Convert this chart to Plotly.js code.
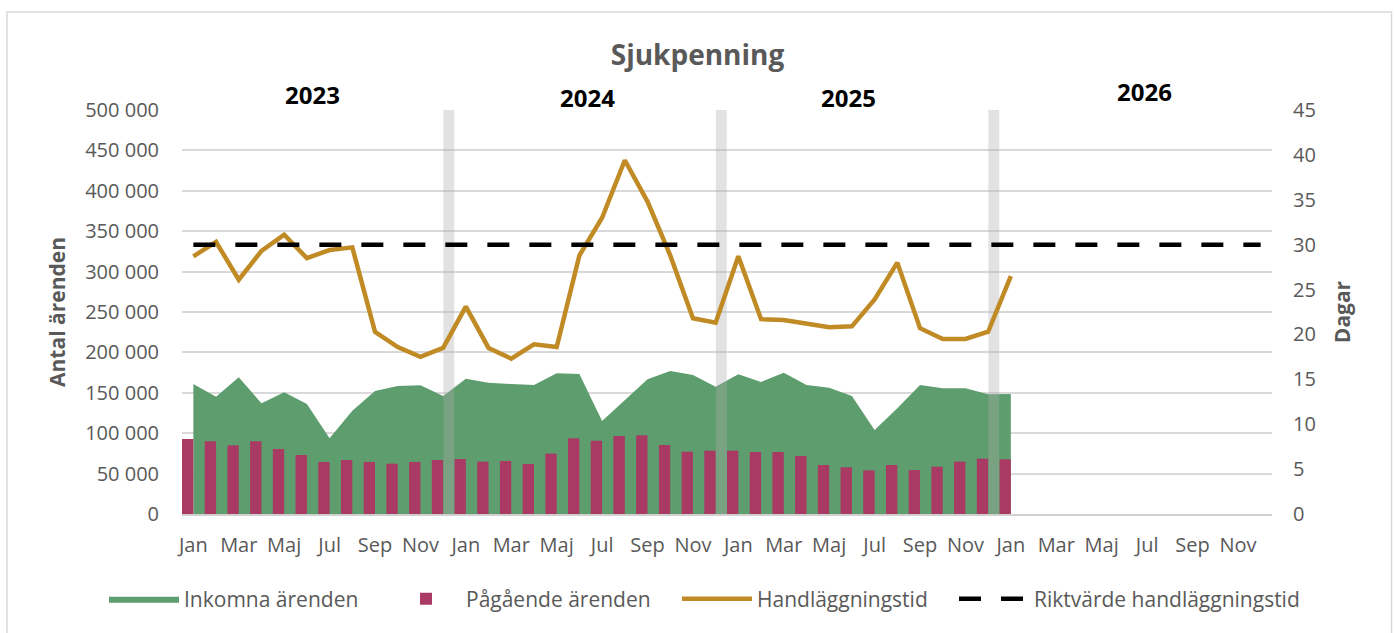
<!DOCTYPE html>
<html>
<head>
<meta charset="utf-8">
<script src="https://cdn.plot.ly/plotly-3.0.1.min.js"></script>
<style>
  html, body { margin: 0; padding: 0; background: #ffffff; }
  #chart { width: 1395px; height: 633px; }
</style>
</head>
<body>
<div id="chart"></div>
<script>
// ---- Data ----
// 48 monthly categories: Jan 2023 .. Dec 2026
const monthNames = ["Jan","Feb","Mar","Apr","Maj","Jun","Jul","Aug","Sep","Okt","Nov","Dec"];
const years = ["2023","2024","2025","2026"];
const tickLabels = ["Jan","Mar","Maj","Jul","Sep","Nov"];

// Inkomna ärenden (Jan 2023 .. Jan 2026)
const inkomna = [
  160900,145200,169200,137000,150600,136100,93700,127900,152200,158400,159200,146000,
  167500,162500,160900,159600,174100,173300,115100,141100,166700,177000,172000,157600,
  172900,163400,174900,159600,156300,146000,104000,130800,159600,155500,155500,148100,
  148500
];
// Pågående ärenden (Jan 2023 .. Jan 2026)
const pagaende = [
  92800,90000,85000,90000,80400,73000,64400,66800,64400,62300,64400,66800,
  68100,64800,65600,61900,74700,93700,90700,96500,97400,85400,77100,78400,
  78400,76700,76700,71800,60600,57800,54000,60600,54400,58600,64800,68500,
  67700
];
// Handläggningstid, dagar (Jan 2023 .. Jan 2026)
const handlaggningstid = [
  28.7,30.3,26.1,29.3,31.1,28.5,29.4,29.7,20.3,18.6,17.5,18.5,
  23.1,18.5,17.3,18.9,18.6,28.8,33.0,39.4,34.8,28.8,21.8,21.3,
  28.7,21.7,21.6,21.2,20.8,20.9,23.9,28.0,20.7,19.5,19.5,20.3,
  26.5
];
// Riktvärde handläggningstid (whole period)
const riktvarde = 30;
// Year separators (December of 2023, 2024, 2025)
const separatorMonths = [11, 23, 35];
const separatorValue = 500000;

// ---- Build x positions ----
const nMonths = years.length * monthNames.length;
const xAll = Array.from({length: nMonths}, (_, i) => i);
const xObs = xAll.slice(0, inkomna.length);
const tickVals = xAll.filter(i => i % 2 === 0);
const tickText = tickVals.map(i => tickLabels[(i % 12) / 2]);

const GREEN = "#5E9E6E";
const MAGENTA = "#A83A63";
const GOLD = "#C08A25";
const GREY_TXT = "#595959";

const traces = [
  {
    type: "scatter", mode: "lines", name: "Inkomna ärenden", legend: "legend",
    x: xObs, y: inkomna, xaxis: "x", yaxis: "y",
    fill: "tozeroy", fillcolor: GREEN, line: {color: GREEN, width: 0},
    hoverinfo: "skip"
  },
  {
    type: "bar", name: "Pågående ärenden", legend: "legend2",
    x: xObs, y: pagaende, xaxis: "x", yaxis: "y2",
    width: 0.5, offset: -0.5,
    marker: {color: MAGENTA, line: {width: 0}},
    hoverinfo: "skip"
  },
  {
    type: "bar", name: "Årsskifte", showlegend: false,
    x: separatorMonths, y: separatorMonths.map(() => separatorValue),
    xaxis: "x", yaxis: "y2",
    width: 0.48, offset: 0.01,
    marker: {color: "rgba(170,170,170,0.34)", line: {width: 0}},
    hoverinfo: "skip"
  },
  {
    type: "scatter", mode: "lines", name: "Handläggningstid", legend: "legend3",
    x: xObs, y: handlaggningstid, xaxis: "x", yaxis: "y3",
    line: {color: GOLD, width: 4.5},
    hoverinfo: "skip"
  },
  {
    type: "scatter", mode: "lines", name: "Riktvärde handläggningstid", legend: "legend4",
    x: xAll, y: xAll.map(() => riktvarde), xaxis: "x", yaxis: "y3",
    line: {color: "#000000", width: 4.5, dash: "22px,20px"},
    hoverinfo: "skip"
  }
];

const W = 1395, H = 633;
const L = 182, R = 1272, T = 110, B = 514;
const px2x = p => (p - L) / (R - L);
const py2y = p => (B - p) / (B - T);

const yearPos = [[312.5, 94.7], [587.5, 98], [848.3, 97.3], [1144, 91.5]];
const legendStarts = [104, 386, 677, 954];

function legendAt(px) {
  return {
    orientation: "h", x: px2x(px), xanchor: "left",
    y: py2y(599), yanchor: "middle",
    font: {size: 21, color: GREY_TXT},
    itemwidth: 70, bgcolor: "rgba(0,0,0,0)", borderwidth: 0
  };
}

const layout = {
  width: W, height: H,
  margin: {l: L, r: W - R, t: T, b: H - B, pad: 0},
  paper_bgcolor: "#ffffff", plot_bgcolor: "rgba(0,0,0,0)",
  font: {family: "Open Sans, sans-serif", size: 20, color: GREY_TXT},
  separators: ", ",
  showlegend: true,
  title: {
    text: "Sjukpenning",
    font: {family: "Open Sans, sans-serif", size: 28, color: GREY_TXT, weight: 700},
    x: 0.5, xref: "container", xanchor: "center",
    y: 1 - 55 / H, yref: "container", yanchor: "middle"
  },
  xaxis: {
    type: "linear", range: [-0.5, nMonths - 0.5],
    tickmode: "array", tickvals: tickVals, ticktext: tickText,
    showgrid: false, zeroline: false,
    showline: true, linecolor: "#d0d0d0", linewidth: 2,
    ticks: "", ticklabelstandoff: 12,
    tickfont: {size: 20, color: GREY_TXT},
    fixedrange: true
  },
  yaxis: {
    range: [0, 500000], dtick: 50000, tick0: 0, tickformat: ",d",
    showgrid: true, gridcolor: "#d9d9d9", gridwidth: 2,
    zeroline: false, showline: false, ticks: "",
    ticklabelstandoff: 22,
    tickfont: {size: 20, color: GREY_TXT},
    title: {text: "Antal ärenden", standoff: 13,
            font: {size: 21, color: GREY_TXT, weight: 700}},
    fixedrange: true
  },
  yaxis2: {
    overlaying: "y", range: [0, 500000], visible: false,
    showgrid: false, zeroline: false, fixedrange: true
  },
  yaxis3: {
    overlaying: "y", side: "right", range: [0, 45], dtick: 5, tick0: 0,
    showgrid: false, zeroline: false, showline: false, ticks: "",
    ticklabelstandoff: 20,
    tickfont: {size: 20, color: GREY_TXT},
    title: {text: "Dagar", standoff: 20,
            font: {size: 21, color: GREY_TXT, weight: 700}},
    fixedrange: true
  },
  legend: legendAt(legendStarts[0]),
  legend2: legendAt(legendStarts[1]),
  legend3: legendAt(legendStarts[2]),
  legend4: legendAt(legendStarts[3]),
  annotations: years.map((yr, i) => ({
    text: "<b>" + yr + "</b>", xref: "paper", yref: "paper",
    x: px2x(yearPos[i][0]), y: py2y(yearPos[i][1]),
    xanchor: "center", yanchor: "middle", showarrow: false,
    font: {size: 24, color: "#000000", family: "Open Sans, sans-serif"}
  })),
  shapes: [{
    type: "rect", xref: "paper", yref: "paper",
    x0: px2x(7), x1: px2x(1391.5), y0: py2y(720), y1: py2y(12),
    line: {color: "#d9d9d9", width: 1.5}, fillcolor: "rgba(0,0,0,0)", layer: "below"
  }],
  barmode: "overlay",
  hovermode: false
};

Plotly.newPlot("chart", traces, layout, {staticPlot: true, displayModeBar: false});
</script>
</body>
</html>
